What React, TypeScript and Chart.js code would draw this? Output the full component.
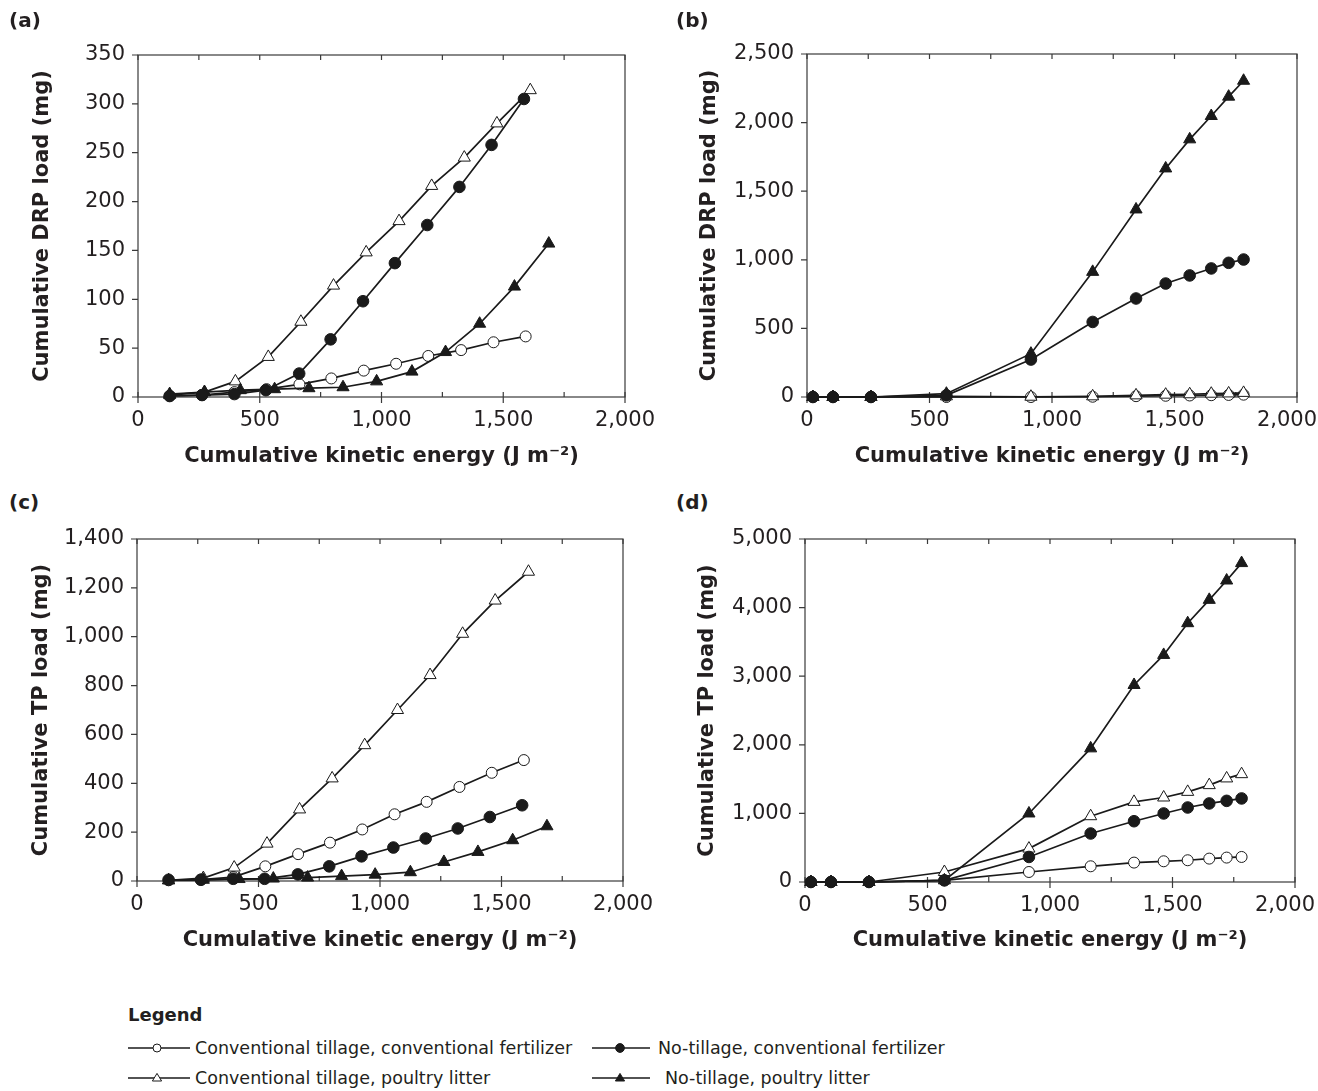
import React, { useEffect, useRef } from 'react';
import { Chart, registerables } from 'chart.js';

Chart.register(...registerables);

// ---------- data ----------
// Cumulative kinetic energy (J m-2) at each sample, panels (a) and (c)
const KE_CT_CF = [130, 263, 396, 528, 663, 794, 927, 1060, 1192, 1327, 1460, 1592];
const KE_NT_CF = [130, 263, 396, 525, 662, 791, 924, 1055, 1188, 1320, 1452, 1585];
const KE_CT_PL = [130, 273, 400, 535, 669, 803, 937, 1072, 1206, 1340, 1474, 1611];
const KE_NT_PL = [130, 273, 420, 561, 702, 842, 980, 1125, 1263, 1403, 1546, 1687];
// Cumulative kinetic energy (J m-2), panels (b) and (d)
const KE_BD = [24, 106, 261, 569, 914, 1166, 1343, 1464, 1562, 1650, 1721, 1782];

// (a) cumulative DRP load (mg)
const A_CT_CF = [1, 2, 5, 8, 13, 19, 27, 34, 42, 48, 56, 62];
const A_NT_CF = [1, 2, 3, 7, 24, 59, 98, 137, 176, 215, 258, 305];
const A_CT_PL = [2, 5, 16, 41, 77, 114, 148, 180, 216, 245, 280, 314];
const A_NT_PL = [3, 5, 7, 8, 9, 10, 16, 26, 46, 75, 113, 157];

// (b) cumulative DRP load (mg)
const B_CT_CF = [0, 0, 0, 0, 0, 2, 6, 9, 11, 13, 15, 17];
const B_NT_CF = [0, 0, 0, 12, 273, 547, 718, 827, 886, 937, 978, 1002];
const B_CT_PL = [0, 0, 0, 5, 2, 5, 12, 17, 20, 24, 26, 30];
const B_NT_PL = [0, 0, 0, 24, 316, 912, 1367, 1666, 1878, 2048, 2189, 2305];

// (c) cumulative TP load (mg)
const C_CT_CF = [3, 6, 16, 60, 110, 157, 211, 273, 324, 385, 443, 495];
const C_NT_CF = [5, 5, 9, 9, 27, 60, 101, 137, 174, 215, 262, 310];
const C_CT_PL = [3, 12, 55, 153, 293, 420, 556, 700, 843, 1012, 1148, 1266];
const C_NT_PL = [3, 5, 8, 10, 14, 20, 26, 36, 78, 119, 167, 224];

// (d) cumulative TP load (mg)
const D_CT_CF = [0, 0, 0, 24, 146, 229, 283, 302, 317, 341, 356, 365];
const D_NT_CF = [0, 0, 0, 24, 365, 707, 886, 999, 1086, 1145, 1183, 1218];
const D_CT_PL = [0, 0, 0, 146, 487, 959, 1168, 1232, 1314, 1412, 1510, 1572];
const D_NT_PL = [0, 0, 0, 24, 999, 1948, 2872, 3310, 3773, 4113, 4395, 4649];

const SERIES_LABELS = [
  'Conventional tillage, conventional fertilizer',
  'No-tillage, conventional fertilizer',
  'Conventional tillage, poultry litter',
  'No-tillage, poultry litter',
];

const X_TICKS = [0, 500, 1000, 1500, 2000];
const Y_TICKS_A = [0, 50, 100, 150, 200, 250, 300, 350];
const Y_TICKS_B = [0, 500, 1000, 1500, 2000, 2500];
const Y_TICKS_C = [0, 200, 400, 600, 800, 1000, 1200, 1400];
const Y_TICKS_D = [0, 1000, 2000, 3000, 4000, 5000];

const X_TITLE = 'Cumulative kinetic energy (J m\u207B\u00B2)';
const Y_TITLE_DRP = 'Cumulative DRP load (mg)';
const Y_TITLE_TP = 'Cumulative TP load (mg)';

// ---------- styles ----------
const INK = '#1a1a1a';
const TEXT = '#231f20';
const FONT = "'DejaVu Sans', 'Liberation Sans', sans-serif";
const TICK_SIZE = 21;
const TITLE_SIZE = 21;

type Kind = 'ctcf' | 'ntcf' | 'ctpl' | 'ntpl';
const KINDS: Kind[] = ['ctcf', 'ntcf', 'ctpl', 'ntpl'];
const MARK: Record<Kind, { style: string; fill: string; r: number; order: number }> = {
  ctcf: { style: 'circle', fill: '#ffffff', r: 5.5, order: 3 },
  ntcf: { style: 'circle', fill: INK, r: 5.8, order: 0 },
  ctpl: { style: 'triangle', fill: '#ffffff', r: 7, order: 2 },
  ntpl: { style: 'triangle', fill: INK, r: 7, order: 1 },
};

type PanelCfg = {
  canvas: { x: number; y: number; w: number; h: number };
  area: { l: number; t: number; r: number; b: number };
  yTitleX: number;
  xTitleY: number;
  lastLabelShift: number;
  yTicks: number[];
  yTitle: string;
  xs: number[][];
  ys: number[][];
};

const PANELS: PanelCfg[] = [
  {
    canvas: { x: 0, y: 30, w: 655, h: 450 },
    area: { l: 138, t: 55, r: 625, b: 397 },
    yTitleX: 43, xTitleY: 457, lastLabelShift: 0,
    yTicks: Y_TICKS_A, yTitle: Y_TITLE_DRP,
    xs: [KE_CT_CF, KE_NT_CF, KE_CT_PL, KE_NT_PL],
    ys: [A_CT_CF, A_NT_CF, A_CT_PL, A_NT_PL],
  },
  {
    canvas: { x: 662, y: 30, w: 656, h: 450 },
    area: { l: 807, t: 54, r: 1297, b: 397 },
    yTitleX: 710, xTitleY: 457, lastLabelShift: 3,
    yTicks: Y_TICKS_B, yTitle: Y_TITLE_DRP,
    xs: [KE_BD, KE_BD, KE_BD, KE_BD],
    ys: [B_CT_CF, B_NT_CF, B_CT_PL, B_NT_PL],
  },
  {
    canvas: { x: 0, y: 515, w: 655, h: 450 },
    area: { l: 137, t: 539, r: 623, b: 881 },
    yTitleX: 42, xTitleY: 941, lastLabelShift: 0,
    yTicks: Y_TICKS_C, yTitle: Y_TITLE_TP,
    xs: [KE_CT_CF, KE_NT_CF, KE_CT_PL, KE_NT_PL],
    ys: [C_CT_CF, C_NT_CF, C_CT_PL, C_NT_PL],
  },
  {
    canvas: { x: 662, y: 515, w: 656, h: 450 },
    area: { l: 805, t: 539, r: 1295, b: 882 },
    yTitleX: 708, xTitleY: 941, lastLabelShift: 3,
    yTicks: Y_TICKS_D, yTitle: Y_TITLE_TP,
    xs: [KE_BD, KE_BD, KE_BD, KE_BD],
    ys: [D_CT_CF, D_NT_CF, D_CT_PL, D_NT_PL],
  },
];

// frame and inward / outward tick marks drawn from the chart scales
const frameTicks = {
  id: 'frameTicks',
  beforeDatasetsDraw(chart: any, _a: any, opts: any) {
    const { ctx, chartArea: a, scales } = chart;
    const xs = scales.x;
    const ys = scales.y;
    ctx.save();
    ctx.strokeStyle = '#3a3a3a';
    ctx.lineWidth = 1.2;
    ctx.strokeRect(a.left, a.top, a.right - a.left, a.bottom - a.top);
    ctx.beginPath();
    for (let v = xs.min; v <= xs.max + 1e-6; v += opts.xMinor) {
      const px = xs.getPixelForValue(v);
      ctx.moveTo(px, a.top);
      ctx.lineTo(px, a.top + 5);
      ctx.moveTo(px, a.bottom);
      ctx.lineTo(px, a.bottom - 5);
      if (Math.abs(v % opts.xMajor) < 1e-6) {
        ctx.moveTo(px, a.bottom);
        ctx.lineTo(px, a.bottom + 6);
      }
    }
    for (const t of ys.ticks) {
      const py = ys.getPixelForValue(t.value);
      ctx.moveTo(a.left - 6, py);
      ctx.lineTo(a.left, py);
    }
    ctx.stroke();
    ctx.restore();
  },
};

const fmt = (v: any) => Number(v).toLocaleString('en-US');

function Panel({ cfg }: { cfg: PanelCfg }) {
  const ref = useRef<HTMLCanvasElement>(null);
  useEffect(() => {
    const { canvas, area } = cfg;
    const yw = area.l - canvas.x;
    const xh = canvas.y + canvas.h - area.b;
    const lh = TITLE_SIZE * 1.2;
    const xTitlePad = canvas.y + canvas.h - cfg.xTitleY - lh / 2;
    const yTitlePad = cfg.yTitleX - canvas.x - lh / 2;
    const yMax = cfg.yTicks[cfg.yTicks.length - 1];
    const yStep = cfg.yTicks[1] - cfg.yTicks[0];
    const xMax = X_TICKS[X_TICKS.length - 1];
    const pad = '\u00A0'.repeat(cfg.lastLabelShift);

    const datasets = KINDS.map((k, i) => ({
      label: SERIES_LABELS[i],
      data: cfg.xs[i].map((xv, j) => ({ x: xv, y: cfg.ys[i][j] })),
      order: MARK[k].order,
      borderColor: INK,
      borderWidth: 1.7,
      pointStyle: MARK[k].style,
      pointRadius: MARK[k].r,
      pointBackgroundColor: MARK[k].fill,
      pointBorderColor: INK,
      pointBorderWidth: 1,
      tension: 0,
      fill: false,
      clip: false,
    }));

    const chart = new Chart(ref.current as HTMLCanvasElement, {
      type: 'line',
      data: { datasets } as any,
      plugins: [frameTicks],
      options: {
        responsive: false,
        maintainAspectRatio: false,
        animation: false,
        layout: {
          padding: { left: 0, top: area.t - canvas.y, right: canvas.x + canvas.w - area.r, bottom: 0 },
        },
        plugins: {
          legend: { display: false },
          tooltip: { enabled: false },
          frameTicks: { xMinor: 250, xMajor: 500 },
        } as any,
        scales: {
          x: {
            type: 'linear',
            min: X_TICKS[0],
            max: xMax,
            grid: { display: false, drawTicks: false },
            border: { display: false },
            ticks: {
              stepSize: X_TICKS[1] - X_TICKS[0],
              autoSkip: false,
              maxRotation: 0,
              padding: 11,
              color: TEXT,
              font: { family: FONT, size: TICK_SIZE },
              callback: (v: any) => (Number(v) === xMax ? fmt(v) + pad : fmt(v)),
            },
            title: {
              display: true,
              text: X_TITLE,
              color: TEXT,
              font: { family: FONT, size: TITLE_SIZE, weight: 'bold' },
              padding: { top: 0, bottom: xTitlePad },
            },
            afterFit: (s: any) => {
              s.height = xh;
              s.paddingLeft = 0;
              s.paddingRight = 0;
            },
          },
          y: {
            type: 'linear',
            min: 0,
            max: yMax,
            grid: { display: false, drawTicks: false },
            border: { display: false },
            ticks: {
              stepSize: yStep,
              autoSkip: false,
              padding: 13,
              color: TEXT,
              font: { family: FONT, size: TICK_SIZE },
              callback: fmt,
            },
            title: {
              display: true,
              text: cfg.yTitle,
              color: TEXT,
              font: { family: FONT, size: TITLE_SIZE, weight: 'bold' },
              padding: { top: yTitlePad, bottom: 0 },
            },
            afterFit: (s: any) => {
              s.width = yw;
              s.paddingTop = 0;
              s.paddingBottom = 0;
            },
          },
        } as any,
      },
    } as any);
    return () => chart.destroy();
  }, [cfg]);
  const c = cfg.canvas;
  return (
    <canvas
      ref={ref}
      width={c.w}
      height={c.h}
      style={{ position: 'absolute', left: c.x, top: c.y, width: c.w, height: c.h }}
    />
  );
}

function Sym({ kind, x, y, w, mx }: { kind: Kind; x: number; y: number; w: number; mx: number }) {
  const h = 14;
  const c = h / 2;
  const open = kind === 'ctcf' || kind === 'ctpl';
  const tri = kind === 'ctpl' || kind === 'ntpl';
  return (
    <svg width={w} height={h} style={{ position: 'absolute', left: x, top: y - c }}>
      <line x1={0} y1={c} x2={w} y2={c} stroke={INK} strokeWidth={1.6} />
      {tri ? (
        <polygon
          points={`${mx},${c - 4.6} ${mx - 4.6},${c + 3} ${mx + 4.6},${c + 3}`}
          fill={open ? '#fff' : INK}
          stroke={INK}
          strokeWidth={1}
        />
      ) : (
        <circle cx={mx} cy={c} r={open ? 4 : 4.4} fill={open ? '#fff' : INK} stroke={INK} strokeWidth={1} />
      )}
    </svg>
  );
}

const txt = (left: number, cy: number, size: number, bold = false): React.CSSProperties => ({
  position: 'absolute',
  left,
  top: cy - 12,
  height: 24,
  lineHeight: '24px',
  fontFamily: FONT,
  fontSize: size,
  fontWeight: bold ? 'bold' : 'normal',
  color: TEXT,
  whiteSpace: 'nowrap',
});

export default function App() {
  return (
    <div style={{ position: 'absolute', left: 0, top: 0, width: 1318, height: 1091, background: '#fff', overflow: 'hidden' }}>
      {PANELS.map((p, i) => (
        <Panel key={i} cfg={p} />
      ))}
      <div style={txt(9, 20, 20, true)}>(a)</div>
      <div style={txt(676, 20, 20, true)}>(b)</div>
      <div style={txt(9, 502, 20, true)}>(c)</div>
      <div style={txt(676, 502, 20, true)}>(d)</div>

      <div style={txt(128, 1015, 18, true)}>Legend</div>
      <Sym kind="ctcf" x={128} y={1048} w={62} mx={29} />
      <div style={txt(195, 1048, 17.5)}>{SERIES_LABELS[0]}</div>
      <Sym kind="ntcf" x={592} y={1048} w={58} mx={28} />
      <div style={txt(658, 1048, 17.5)}>{SERIES_LABELS[1]}</div>
      <Sym kind="ctpl" x={128} y={1078} w={62} mx={29} />
      <div style={txt(195, 1078, 17.5)}>{SERIES_LABELS[2]}</div>
      <Sym kind="ntpl" x={592} y={1078} w={58} mx={28} />
      <div style={txt(665, 1078, 17.5)}>{SERIES_LABELS[3]}</div>
    </div>
  );
}
